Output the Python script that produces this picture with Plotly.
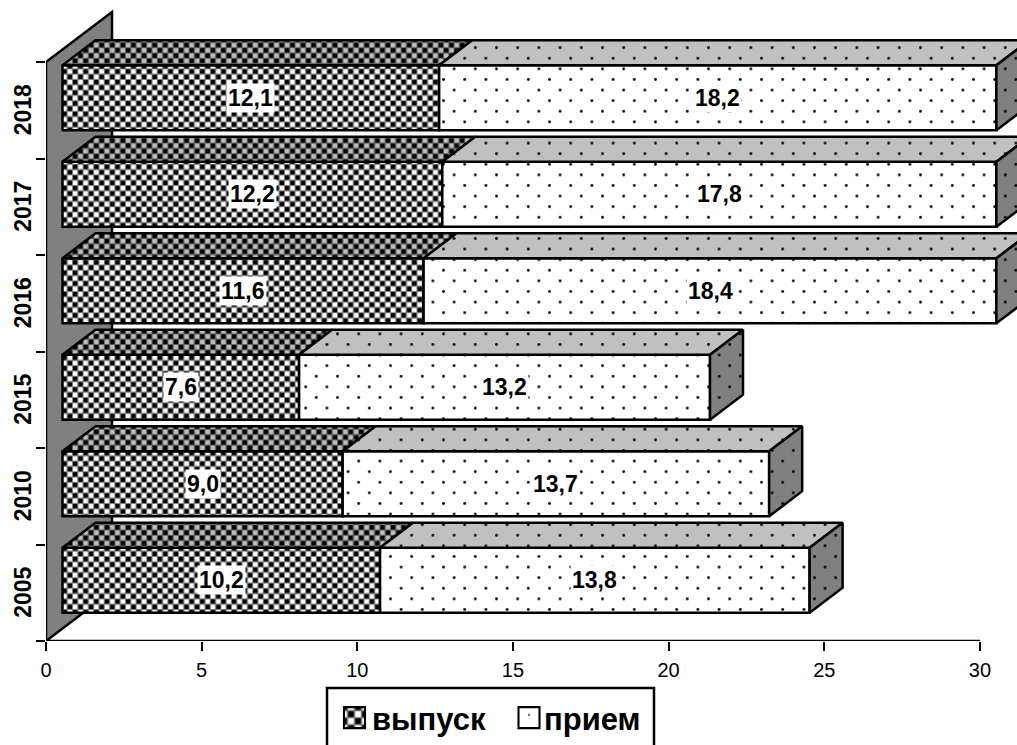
import plotly.graph_objects as go

years = ["2005", "2010", "2015", "2016", "2017", "2018"]
vypusk = [10.2, 9.0, 7.6, 11.6, 12.2, 12.1]
priem = [13.8, 13.7, 13.2, 18.4, 17.8, 18.2]
names = ["выпуск", "прием"]
x_ticks = [0, 5, 10, 15, 20, 25, 30]

W, H = 1017, 745
L, B = 46, 104
PX_X = 31.13
PX_Y = 96.5
AX_MAX = 30
DEPTH_X = 33 / PX_X
DEPTH_Y = 25 / PX_Y
BAR_H = 65 / PX_Y
SHIFT_X = DEPTH_X / 2
SHIFT_Y = DEPTH_Y / 2
LINE = 2.5
FONT = "Liberation Sans, Arial, sans-serif"


def px(v):
    return (v - L) / (W - L)


def py(v):
    return (H - B - v) / (H - B)


def checker(bg):
    return dict(shape=".", size=10.6, solidity=0.22, fgcolor="black", bgcolor=bg, fillmode="replace")


def dots(bg):
    return dict(shape=".", size=21.2, solidity=0.014, fgcolor="black", bgcolor=bg, fillmode="replace")


n = len(years)
pos = [i + 0.5 + SHIFT_Y for i in range(n)]
start2 = [v for v in vypusk]
end2 = [min(a + b, AX_MAX) for a, b in zip(vypusk, priem)]

fig = go.Figure()

fig.add_bar(
    y=pos, x=vypusk, base=[SHIFT_X] * n, width=BAR_H, orientation="h", name=names[0],
    marker=dict(color="white", line=dict(color="black", width=LINE), pattern=checker("#808080")),
    hoverinfo="skip",
)
fig.add_bar(
    y=pos, x=[e - s for s, e in zip(start2, end2)], base=[SHIFT_X + s for s in start2], width=BAR_H,
    orientation="h", name=names[1],
    marker=dict(color="white", line=dict(color="black", width=LINE), pattern=dots("white")),
    hoverinfo="skip",
)


def face(xs, ys, pattern):
    fig.add_scatter(
        x=xs, y=ys, mode="lines", fill="toself", fillpattern=pattern, fillcolor=pattern["bgcolor"],
        line=dict(color="black", width=LINE), showlegend=False, hoverinfo="skip",
    )


for i in range(n - 1, -1, -1):
    top = pos[i] + BAR_H / 2
    bot = pos[i] - BAR_H / 2
    x0 = SHIFT_X
    x1 = SHIFT_X + start2[i]
    x2 = SHIFT_X + end2[i]
    face([x0, x1, x1 + DEPTH_X, x0 + DEPTH_X, x0],
         [top, top, top + DEPTH_Y, top + DEPTH_Y, top], checker("#606060"))
    face([x1, x2, x2 + DEPTH_X, x1 + DEPTH_X, x1],
         [top, top, top + DEPTH_Y, top + DEPTH_Y, top], dots("#c0c0c0"))
    face([x2, x2 + DEPTH_X, x2 + DEPTH_X, x2, x2],
         [top, top + DEPTH_Y, bot + DEPTH_Y, bot, top], dots("#808080"))

annotations = []
for i in range(n):
    for text_val, a, b in ((vypusk[i], 0, start2[i]), (priem[i], start2[i], end2[i])):
        annotations.append(dict(
            x=SHIFT_X + (a + b) / 2, y=pos[i], text=f"{text_val:.1f}".replace(".", ","),
            showarrow=False, bgcolor="white", borderpad=1,
            font=dict(family=FONT, size=23, color="black", weight=700),
        ))

wall_dx = 2 * DEPTH_X
wall_dy = 2 * DEPTH_Y
shapes = [
    dict(type="path", layer="below", xref="x", yref="y",
         path=f"M0,0 L0,{n} L{wall_dx},{n + wall_dy} L{wall_dx},{wall_dy} Z",
         fillcolor="#808080", line=dict(color="black", width=LINE)),
    dict(type="line", layer="above", xref="x", yref="y", x0=0, x1=AX_MAX, y0=0, y1=0,
         line=dict(color="black", width=LINE)),
    dict(type="rect", layer="above", xref="paper", yref="paper",
         x0=px(327), x1=px(654), y0=py(688), y1=py(760),
         line=dict(color="black", width=LINE), fillcolor="rgba(0,0,0,0)"),
]

fig.update_layout(
    width=W, height=H, margin=dict(l=L, r=0, t=0, b=B, autoexpand=False),
    paper_bgcolor="white", plot_bgcolor="white", barmode="overlay",
    font=dict(family=FONT, color="black"),
    shapes=shapes, annotations=annotations,
    legend=dict(orientation="h", x=px(332), xanchor="left", y=py(691), yanchor="top",
                entrywidth=127, entrywidthmode="pixels",
                font=dict(family=FONT, size=31, color="black", weight=700),
                bgcolor="rgba(0,0,0,0)", traceorder="normal", itemclick=False),
    xaxis=dict(range=[0, (W - L) / PX_X], tickmode="array", tickvals=x_ticks, ticks="outside",
               ticklen=9, tickwidth=2, tickcolor="black", showgrid=False, zeroline=False,
               showline=False, ticklabelstandoff=2,
               tickfont=dict(family=FONT, size=20, color="black")),
    yaxis=dict(range=[0, (H - B) / PX_Y], tickmode="array",
               tickvals=[i + 0.47 for i in range(n)],
               ticktext=years, ticks="outside", ticklen=5, tickcolor="rgba(0,0,0,0)", tickangle=-90,
               showgrid=False, zeroline=False, showline=False,
               tickfont=dict(family=FONT, size=23, color="black", weight=700),
               minor=dict(tickmode="array", tickvals=list(range(n + 1)), ticks="outside", ticklen=9,
                          tickwidth=2, tickcolor="black", showgrid=False)),
)

post = """
document.body.style.margin = '0';
var gd = document.querySelector('.plotly-graph-div');
var NS = 'http://www.w3.org/2000/svg';
function square(p, x, y, s, fill) {
  var r = document.createElementNS(NS, 'rect');
  r.setAttribute('x', x - s / 2); r.setAttribute('y', y - s / 2);
  r.setAttribute('width', s); r.setAttribute('height', s);
  r.setAttribute('fill', fill);
  p.appendChild(r);
}
function restyle() {
  var offs = [22.5, 25];
  document.querySelectorAll('.legend .legendpoints path').forEach(function (s, idx) {
    s.setAttribute('transform', 'translate(' + offs[idx] + ',0) scale(1.75)');
    s.style.strokeWidth = '1.2px';
    if (idx === 1) {
      var m = (s.style.fill || '').match(/#([^"')]+)/);
      var p = m ? document.getElementById(m[1]) : null;
      if (p && !p.getAttribute('data-st')) {
        p.setAttribute('data-st', '1');
        while (p.firstChild) p.removeChild(p.firstChild);
        p.setAttribute('x', -12); p.setAttribute('y', -12);
        p.setAttribute('width', 24); p.setAttribute('height', 24);
        square(p, 12, 12, 24, '#ffffff');
        var dot = document.createElementNS(NS, 'circle');
        dot.setAttribute('cx', 12); dot.setAttribute('cy', 10);
        dot.setAttribute('r', 0.6); dot.setAttribute('fill', '#000');
        p.appendChild(dot);
      }
    }
  });
  document.querySelectorAll('pattern').forEach(function (p) {
    if (p.getAttribute('data-st')) return;
    var c = p.querySelector('circle');
    if (!c) return;
    var w = parseFloat(p.getAttribute('width'));
    p.setAttribute('data-st', '1');
    if (w < 15) {
      var bg = p.querySelector('rect');
      var f = bg ? (bg.getAttribute('fill') || bg.style.fill || '') : '';
      var light = f.indexOf('128') >= 0 || f.indexOf('808080') >= 0 ? '#ffffff' : '#c0c0c0';
      c.remove();
      square(p, w / 4, w / 4, 4.2, '#000');
      square(p, 3 * w / 4, 3 * w / 4, 4.2, '#000');
      square(p, 3 * w / 4, w / 4, 4.2, light);
      square(p, w / 4, 3 * w / 4, 4.2, light);
    } else {
      var d = c.cloneNode();
      c.setAttribute('cx', w / 4); c.setAttribute('cy', w / 4);
      d.setAttribute('cx', 3 * w / 4); d.setAttribute('cy', 3 * w / 4);
      p.appendChild(d);
    }
  });
}
restyle();
if (gd.on) gd.on('plotly_afterplot', restyle);
setTimeout(restyle, 50);
"""
fig.write_html("out.html", post_script=post, config=dict(displayModeBar=False))
